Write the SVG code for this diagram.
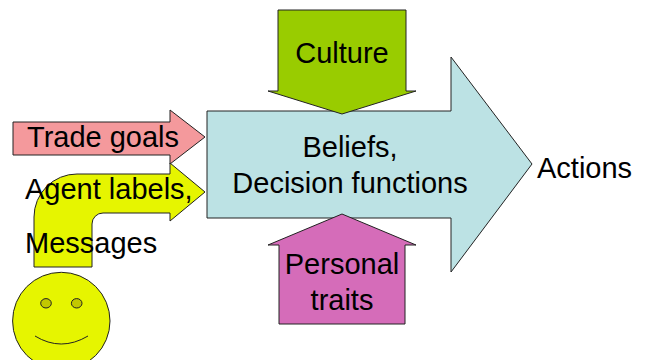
<svg xmlns="http://www.w3.org/2000/svg" width="648" height="360" viewBox="0 0 648 360">
<style>
.s{stroke:#222;stroke-width:1;stroke-linejoin:miter}
.t{font-family:"Liberation Sans",Arial,sans-serif;font-size:29px;fill:#000}
</style>
<rect width="648" height="360" fill="#fff"/>
<g id="beliefs">
<path class="s" fill="#bce2e4" d="M207,111 H451 V57 L532,164 L451,272 V218 H207 Z"/>
<text class="t" x="350" y="157" text-anchor="middle">Beliefs,</text>
<text class="t" x="350" y="193" text-anchor="middle">Decision functions</text>
</g>
<g id="culture">
<path class="s" fill="#99cc00" d="M278,10 H406 V91 H416 L342,114 L268,91 H278 Z"/>
<text class="t" x="342" y="63" text-anchor="middle">Culture</text>
</g>
<g id="personal">
<path class="s" fill="#d56cb9" d="M279,324 V245 H268 L342,214 L416,245 H405 V324 Z"/>
<text class="t" x="342" y="274" text-anchor="middle">Personal</text>
<text class="t" x="342" y="310" text-anchor="middle">traits</text>
</g>
<g id="trade-goals">
<path class="s" fill="#f4999c" d="M13,122 H170 V110 L205,137 L170,164 V155 H13 Z"/>
<text class="t" x="27" y="147">Trade goals</text>
</g>
<g id="agent-labels">
<path class="s" fill="#e6f500" d="M34,267 V217 A43,43 0 0 1 77,174 H170 V163 L205,192 L170,221 V213 H103 A11,11 0 0 0 92,224 V267 Z"/>
<text class="t" x="25" y="199">Agent labels,</text>
<text class="t" x="25" y="253">Messages</text>
</g>
<g id="smiley">
<circle class="s" cx="61.3" cy="321" r="48.7" fill="#e6f500"/>
<ellipse class="s" cx="46" cy="303.3" rx="5.3" ry="4.7" fill="#c2c800"/>
<ellipse class="s" cx="76.7" cy="303.3" rx="5.3" ry="4.7" fill="#c2c800"/>
<path class="s" fill="none" d="M35,336 Q61,352 88,336"/>
</g>
<g id="actions">
<text class="t" x="537" y="178">Actions</text>
</g>
<g id="connectors"></g>
</svg>
